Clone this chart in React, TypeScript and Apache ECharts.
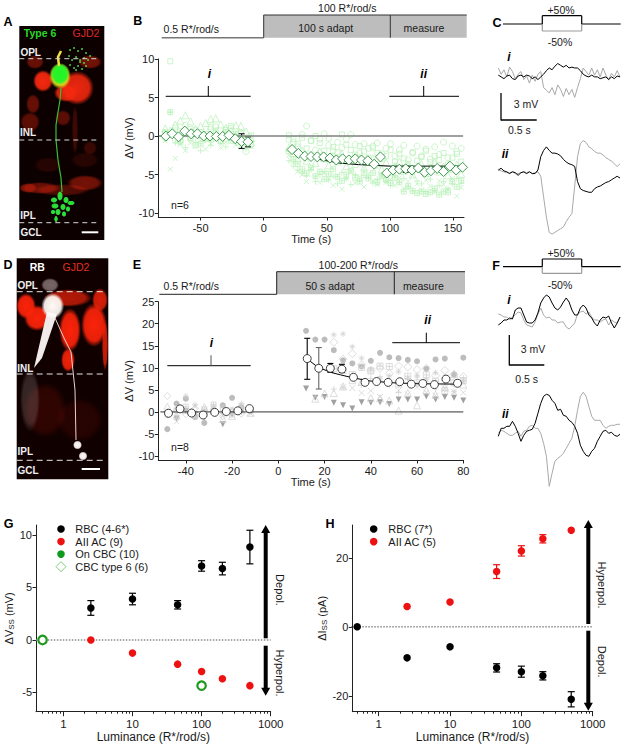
import React, { useEffect, useRef } from "react";
import * as echarts from "echarts";

const FONT = '"Liberation Sans", Arial, sans-serif';

// ---------- Panel B ----------
const tBPre = [-78,-74,-70,-66,-62,-58,-54,-50,-46,-42,-38,-34,-30,-26,-22,-18,-14,-10];
const tBPost = [20,23.5,27,30.5,34,37.5,41,44.5,48,51.5,55,58.5,62,65.5,69,72.5,76,79.5,83,86.5,90,93.5,97,100.5,104,107.5,111,114.5,118,121.5,125,128.5,132,135.5,139,142.5,146,149.5,153,156.5];
const bCirclePre = [-0.3,0.2,-0.5,0.6,1.4,-0.2,0.8,0.1,-0.4,0.9,1.2,-0.6,0.5,1.0,-0.8,0.2,-2.0,-1.2];
const bSquarePre = [0.4,9.7,1.1,-0.6,0.3,0.9,-1.2,0.5,-0.2,1.2,0,-0.7,0.8,1.3,0.3,0.4,-0.5,-1.1];
const bTrianglePre = [1.0,0.7,1.5,2.0,2.7,1.9,0.9,1.3,1.7,2.2,2.3,1.5,1.1,0.7,1.4,1.3,0.6,-0.3];
const bCrossPre = [-0.6,-4.3,-2.9,-1.1,-1.9,-0.9,-1.3,-0.6,-1.7,-1.0,-0.4,-1.5,-0.8,-0.3,-1.2,-1.5,-0.9,-1.3];
const bPlusPre = [-0.3,3.1,-0.9,-0.4,-1.5,0,-0.8,-1.9,-0.5,-1.2,-0.2,-0.9,-1.4,-0.3,-0.7,-1.1,-1.7,-0.6];
const bBoxPlusPre = [0.5,3.1,0.2,-0.8,0.6,-0.3,0.4,-1.0,0.3,-0.4,0.7,-0.1,0.5,-0.6,0.2,-0.4,-0.9,0.1];
const bCirclePost = [-0.5,-0.8,-1.4,0.2,1.3,-0.6,-1.8,-0.4,0.3,-1.2,-1.9,-0.8,-1.5,-0.4,0.2,-1.1,-2.2,-1.0,-1.6,-1.3,-0.9,-2.3,-1.6,-1.0,-2.6,-1.8,-1.2,-3.1,-2.2,-1.3,-2.6,-1.7,-3.0,-1.4,-2.4,-0.8,-2.8,-1.3,-2.0,-1.6];
const bSquarePost = [0.1,-0.4,-1.0,-0.2,-1.6,-0.6,0,-0.9,-1.9,-0.3,-1.4,-2.1,0.2,-1.1,-1.8,-2.4,-1.3,-2.0,-2.8,-1.5,-2.2,-3.0,-2.6,-1.8,-3.3,-2.3,-2.9,-3.6,-2.1,-3.2,-2.7,-1.9,-3.4,-2.6,-3.1,-2.2,-3.7,-2.8,-2.3,-3.3];
const bTrianglePost = [-1.5,-2.2,-2.9,-1.9,-3.2,-2.5,-3.5,-2.0,-2.9,-3.8,-2.6,-3.3,-2.3,-3.9,-3.0,-3.6,-2.8,-4.1,-3.3,-2.9,-3.7,-4.3,-3.4,-4.7,-3.9,-3.3,-4.5,-3.8,-5.0,-4.2,-3.6,-4.8,-4.1,-3.4,-4.6,-3.9,-5.1,-4.3,-3.7,-4.9];
const bCrossPost = [-2.5,-3.4,-4.6,-5.0,-5.9,-4.2,-5.3,-6.0,-4.8,-5.6,-6.4,-5.1,-6.9,-5.5,-4.6,-6.1,-5.3,-6.6,-4.9,-5.8,-6.3,-5.2,-6.0,-5.6,-6.4,-5.4,-6.8,-5.9,-5.1,-6.2,-7.0,-5.7,-6.5,-7.2,-5.8,-6.3,-6.9,-5.5,-7.8,-6.7];
const bPlusPost = [-3.2,-3.9,-4.4,-4.8,-5.2,-4.4,-5.9,-5.0,-4.6,-5.7,-5.2,-6.2,-4.7,-5.5,-6.3,-5.0,-5.8,-4.4,-5.4,-6.1,-5.6,-5.0,-5.9,-6.4,-5.2,-6.0,-5.5,-6.6,-7.1,-5.8,-6.2,-7.2,-5.6,-7.1,-6.4,-5.9,-6.8,-6.2,-5.5,-6.1];
const bBoxPlusPost = [-2.0,-3.0,-3.6,-4.3,-4.8,-4.1,-5.2,-4.6,-5.6,-4.9,-4.3,-5.3,-5.8,-5.0,-4.5,-5.4,-5.9,-5.1,-5.5,-4.8,-6.0,-5.2,-5.7,-6.1,-5.4,-6.0,-7.2,-6.5,-7.1,-7.4,-7.2,-7.5,-7.3,-6.8,-7.6,-7.2,-7.3,-5.9,-6.6,-5.8];
const bMeanT = [-77.5,-72.5,-67.5,-62.5,-57.5,-52.5,-47.5,-42.5,-37.5,-32.5,-27.5,-22.5,-17.5,-12.5,22.5,27.5,32.5,37.5,42.5,47.5,52.5,57.5,62.5,67.5,72.5,77.5,82.5,87.5,92.5,97.5,102.5,107.5,112.5,117.5,122.5,127.5,132.5,137.5,142.5,147.5,152.5,157.5];
const bMeanV = [0,0.3,-0.1,0.65,0.3,0.3,0,0,-0.05,-0.05,0.1,-0.35,-0.7,-0.75,-1.75,-2.25,-2.6,-2.65,-2.7,-2.7,-2.85,-3.1,-2.95,-3.1,-2.95,-3.1,-3.2,-3.65,-2.7,-4.8,-4.4,-4.3,-4.25,-4.4,-4.15,-4.7,-4.5,-4.2,-4.6,-3.9,-4.4,-4.05];
const bErrors = [[-17.5,-1.6,0.3],[-12.5,-1.4,-0.1],[112.5,-4.7,-3.9],[127.5,-5.0,-4.4]];
const bFitT = [40,48,60,75,100,130,157];
const bFitV = [-2.9,-3.15,-3.5,-3.7,-3.9,-3.9,-3.9];
const bZeroT = [-83,158];
const zeroV = [0,0];

// ---------- Panel E ----------
const tEPre = [-48,-44,-40,-36,-32,-28,-24,-20,-16,-12];
const tEPost = [12,16,20,24,28,32,36,40,44,48,52,56,60,64,68,72,76,80];
const eDotPre = [-3.9,1.9,3.0,-1.2,-2.5,0.3,1.5,3.2,1.0,0.2];
const eDownPre = [-0.8,-1.5,0.2,-0.6,-1.2,-0.3,-2.8,-0.5,0,0.4];
const eDiamondPre = [3.6,0.3,-0.5,0.8,-0.2,0.6,-1.0,0.3,-0.4,0.2];
const eTrianglePre = [1.2,-0.8,0.4,-0.4,1.1,0.2,-1.6,-0.9,0.5,-0.2];
const eCrossPre = [-0.9,-2.2,0.5,1.2,-0.5,0.8,-0.7,-0.2,1.0,-0.4];
const eStarPre = [0.2,-1.2,3.6,1.6,0.4,1.4,-0.3,0.6,1.9,0.5];
const eSquarePre = [-0.5,0.4,1.2,-1.0,0.6,1.7,0.9,-0.6,1.1,0.3];
const eDotPost = [18.4,16.4,16.4,14,11.7,11,10.3,11.6,13.4,12.4,12.2,11.8,11.5,9.8,11.9,12.1,8.5,12.3];
const eDownPost = [5.3,3.2,3.4,2.1,1.5,0.8,2.2,2.1,2.2,1.8,2.8,2.8,2.8,3.5,2.8,3.4,3.2,2.6];
const eDiamondPost = [null,null,null,15.8,12,13.2,10.7,9.4,9.9,8.7,10.4,10.2,9.6,9.9,8.2,9.4,8.5,8.0];
const eStarPost = [null,null,null,17.5,17.7,14.8,12.2,9.7,7.5,8.2,9.1,7.6,8.3,7.4,8.9,7.8,4.6,6.9];
const eTrianglePost = [null,3.0,4.2,4.3,5.8,7.2,6.8,3.2,3.1,2.6,0.3,4.3,1.5,4.9,3.9,5.6,8.6,6.2];
const eCrossPost = [null,null,null,null,5.6,5.4,4.3,4.8,3.4,6.4,4.9,4.0,5.6,4.4,3.7,5.4,4.6,4.4];
const ePlusPost = [null,null,null,5.2,5.5,7.6,6.1,7.6,8.0,6.2,4.4,7.5,7.9,6.9,5.2,7.2,6.2,7.7];
const eSquarePost = [null,null,null,9.8,9.4,8.5,10.1,9.3,10.4,10.3,6.3,8.1,6.6,8.4,7.0,4.8,6.6,7.1];
const eMeanT = [-47.5,-42.5,-37.5,-32.5,-27.5,-22.5,-17.5,-12.5,12.5,17.5,22.5,27.5,32.5,37.5,42.5,47.5,52.5,57.5,62.5,67.5,72.5,77.5];
const eMeanV = [-0.3,0.7,-0.25,-0.7,-0.1,0.1,0.25,0.75,12.1,9.9,9.9,9.7,7.85,6.7,6.9,6.7,6.85,6.3,6.45,6.2,7.45,6.5];
const eErrors = [[12.5,7.4,16.7],[22.5,9,11],[27.5,9,10.8]];
const eErrorsGray = [[17.5,5.2,14.6]];
const eFitT = [12.5,17,22.5,27,32.5,40,50,60,78];
const eFitV = [12,10.2,9,8.4,7.7,7,6.6,6.4,6.3];
const eZeroT = [-51,80];

// ---------- Panel C / F traces ----------
const traceT = [0,0.04,0.08,0.12,0.16,0.2,0.24,0.28,0.32,0.36,0.4,0.44,0.48,0.52,0.56,0.6,0.64,0.68,0.72,0.76,0.8,0.84,0.88,0.92,0.96,1,1.04,1.08,1.12,1.16,1.2,1.24,1.28,1.32,1.36,1.4,1.44,1.48,1.52,1.56,1.6,1.64,1.68,1.72];
const cIBlack = [0.1,-0.1,-0.3,0,0.1,-0.3,-0.4,0,0.1,-0.1,0.1,0,-0.3,-0.1,-0.4,-0.1,0.2,0.6,0.9,0.7,1.1,1.4,1.2,1.0,1.2,0.9,1.0,0.9,0.9,0.6,0.2,0,-0.1,0.1,-0.1,-0.1,-0.3,-0.2,-0.1,-0.4,-0.1,-0.3,0,-0.1];
const cIGray = [0.9,0.2,0.7,-0.1,1.0,0.5,-0.3,0.2,0.5,-0.4,0,-0.8,0.1,-0.6,0.2,0.5,-1.3,-1.6,-1.9,-1.3,-2.1,-1.0,-1.5,-2.3,-1.4,-2.1,-1.5,-2.4,-1.3,-0.3,0.9,0.5,0.1,0.9,0.1,0.7,-0.1,0.9,0.1,-0.4,0.3,-0.1,0.6,-0.1];
const cIIBlack = [0.3,0.5,0.2,0.1,-0.1,0.1,0,-0.3,0,0.1,-0.1,0.1,-0.1,-0.1,0.3,1.8,2.5,2.9,2.5,2.2,2.2,2.1,1.9,1.5,1.2,1.0,0.9,0.7,-1.0,-1.8,-2.0,-2.1,-2.2,-2.2,-1.8,-1.6,-1.5,-1.3,-1.1,-1.0,-0.8,-0.6,-0.4,-0.6];
const cIIGray = [0.3,0.2,0.1,0,0,0.1,-0.1,-0.1,0,0.1,0,0.1,-0.1,0,0.1,-0.4,-2.7,-5.0,-6.7,-6.9,-6.7,-6.5,-6.3,-6.1,-5.5,-5.0,-4.6,-1.5,1.8,3.3,3.6,3.4,2.9,2.7,2.4,2.2,2.2,2.0,1.7,1.5,1.3,1.0,0.7,1.0];
const fIBlack = [-0.5,-0.3,0,0,0.2,0.1,1.0,1.2,1.2,0.5,-0.2,-0.3,-0.3,0,0.7,1.7,2.2,2.5,2.3,1.7,1.2,1.0,1.3,1.8,2.2,1.8,1.0,0.5,0.5,1.2,1.5,1.2,0.5,0.2,-0.3,-0.6,0,0.3,0.2,0.4,-0.3,-0.8,-0.3,0.3];
const fIGray = [0.6,0.5,0.3,0.3,0,0.3,0.5,0.8,0.7,0,-0.5,-0.6,-0.7,-0.2,0.6,1.2,0.5,0.2,0.3,0,0,-0.3,-0.2,-0.2,-0.7,-0.9,-0.6,-0.3,0.6,0.8,0.9,0.6,0.8,0.3,0,0,-0.2,0,0.1,-0.5,0,-0.2,-0.3,0.3];
const fIIBlack = [-0.3,0.5,0.5,0.7,0.7,1.2,0.7,0,-0.8,-0.2,0.2,0.3,0.4,1.0,2.0,3.0,3.7,3.9,3.8,3.3,3.0,2.3,2.4,1.8,1.7,1.3,1.1,0.7,0,-1.2,-1.8,-2.2,-2.3,-1.8,-1.5,-0.8,-0.3,0.2,0.3,0,0.1,-0.2,-0.3,-0.1];
const fIIGray = [0,0.3,0.2,0,-0.2,-0.2,0,0.2,-0.3,0.2,0.3,0.7,0.8,0.5,0.5,0,-1.0,-2.3,-5.3,-4.0,-2.8,-2.5,-2.3,-2.0,-1.5,-1.0,-0.5,0.7,2.3,3.7,4.1,3.7,2.7,1.7,1.3,1.3,1.3,0.8,0.5,0.7,0.8,0.8,0.9,0.9];

// ---------- Panel G / H ----------
const lum = [2.5,10,45,100,200,500];
const gRbc = [3.05,3.9,3.35,7.05,6.8,8.85];
const gRbcErr = [0.7,0.55,0.4,0.5,0.6,1.6];
const gAii = [0,-1.25,-2.3,-3,-3.7,-4.35];
const gGreenX = [0.5,100];
const gGreenY = [0,-4.35];
const gZeroX = [0.4,1000];
const hRbcX = [0.5,2.5,10,45,100,200,500];
const hRbc = [0,-9,-5.8,-11.9,-13,-14.2,-21];
const hRbcErr = [0,0,0,1.2,1.6,1.2,2.2];
const hAii = [5.9,7.2,16,22,25.5,28];
const hAiiErr = [0,0,2,1.5,1.2,0];
const logMinorTicks = [0.5,0.6,0.7,0.8,0.9,2,3,4,5,6,7,8,9,20,30,40,50,60,70,80,90,200,300,400,500,600,700,800,900];
const logMajorTicks = [1,10,100,1000];
const legendG = ["RBC (4-6*)","AII AC (9)","On CBC (10)","CBC type 6 (6)"];
const legendH = ["RBC (7*)","AII AC (5)"];

// ---------- Micrograph decoration ----------
const blobsA: number[][] = [[35,62,9,7,0.4],[90,62,12,7,0.45],[43,81,10,11,1],[77,88,17,17,0.95],[66,93,12,9,0.9],[33,104,7,10,0.4],[30,122,10,10,0.35],[63,118,8,8,0.35],[75,130,3,25,0.22],[90,148,7,7,0.2],[40,188,20,6,0.4],[85,183,18,8,0.45],[62,190,28,6,0.3],[28,188,9,5,0.4],[48,165,14,8,0.12],[85,160,14,8,0.12]];
const blobsD: number[][] = [[26,306,10,13,1],[37,318,13,13,1],[68,298,24,9,0.7],[70,330,11,22,1],[94,325,13,22,1],[100,300,8,12,0.85],[68,360,7,12,0.95],[105,345,3,26,0.8],[45,410,22,28,0.14],[80,420,24,22,0.1]];
const axonA = [[61,88],[60,100],[58,112],[56,125],[56,140],[58,160],[61,178],[62,192]];
const clusterA = [[60,196,3,5],[54,200,3.5,3],[66,200,3,3.5],[71,203,4,2.5],[55,206,4,3],[63,207,3,3.5],[68,209,2.5,3],[58,212,3,3.5],[64,214,2.5,3],[53,212,2.5,2.5],[56,219,2,3.5]];
const dotsA = [[70,50],[74,48],[78,51],[82,49],[86,53],[69,56],[72,60],[76,57],[80,60],[84,58],[88,60],[90,56],[70,65],[74,68],[78,66],[82,69],[86,66],[76,70],[80,62],[84,63]];

const line = (x1: number, y1: number, x2: number, y2: number, stroke = "#000", lineWidth = 1, extra: any = {}) => ({
  type: "line", silent: true, shape: { x1, y1, x2, y2 }, style: { stroke, lineWidth, ...extra },
});
const txt = (text: string, x: number, y: number, size = 10.5, fill = "#1a1a1a", opts: any = {}) => ({
  type: "text", silent: true, x, y, rotation: opts.rotation || 0,
  style: { text, fill, font: `${opts.weight || "normal"} ${size}px ${FONT}`, align: opts.align || "center", verticalAlign: "middle" },
});
const soft = (r: number, g: number, b: number, a: number) =>
  new echarts.graphic.RadialGradient(0.5, 0.5, 0.5, [
    { offset: 0, color: `rgba(${r},${g},${b},${a})` },
    { offset: 0.72, color: `rgba(${r},${g},${b},${a * 0.92})` },
    { offset: 1, color: `rgba(${r},${g},${b},0)` },
  ]);
const blob = (cx: number, cy: number, rx: number, ry: number, fill: any) => ({ type: "ellipse", silent: true, shape: { cx, cy, rx, ry }, style: { fill } });
const rect = (x: number, y: number, width: number, height: number, fill: string) => ({ type: "rect", silent: true, shape: { x, y, width, height }, style: { fill } });
const arrow = (x: number, y1: number, y2: number) => {
  const dir = y2 < y1 ? 1 : -1;
  return [
    line(x, y1, x, y2 + dir * 6, "#000", 4),
    { type: "polygon", silent: true, shape: { points: [[x - 4.5, y2 + dir * 8], [x + 4.5, y2 + dir * 8], [x, y2]] }, style: { fill: "#000" } },
  ];
};

const S = {
  box: "path://M0 0H10V10H0Z",
  cross: "path://M0 0L10 10M0 10L10 0",
  plus: "path://M5 0V10M0 5H10",
  boxPlus: "path://M0 0H10V10H0ZM5 0V10M0 5H10",
  star: "path://M5 0V10M0 5H10M1.5 1.5L8.5 8.5M1.5 8.5L8.5 1.5",
};

const zip = (xs: number[], ys: (number | null)[]) => xs.map((x, i) => [x, ys[i]]).filter((p) => p[1] !== null);

export default function App() {
  const ref = useRef<HTMLDivElement>(null);
  useEffect(() => {
    const chart = echarts.init(ref.current!, undefined, { renderer: "svg" });

    const green = "#b6f0b6";
    const cloud = (xs: number[], ys: (number | null)[], symbol: string, color: string, i: number, size = 6, filled = false) => ({
      type: "scatter", xAxisIndex: i, yAxisIndex: i, symbol, symbolSize: size, z: 2, silent: true,
      data: zip(xs, ys),
      itemStyle: filled ? { color, opacity: 1 } : { color: "none", borderColor: color, borderWidth: 0.7, opacity: 1 },
    });
    const lineS = (xs: number[], ys: number[], i: number, color: string, width: number, z = 3, type: any = "solid") => ({
      type: "line", xAxisIndex: i, yAxisIndex: i, data: zip(xs, ys), showSymbol: false, symbol: "none", silent: true, z,
      lineStyle: { color, width, type },
    });
    const errs = (data: number[][], i: number, color: string, z = 4, cap = 3.5, width = 1.2) => ({
      type: "custom", xAxisIndex: i, yAxisIndex: i, z, silent: true, data,
      encode: { x: 0, y: [1, 2] },
      renderItem: (_: any, api: any) => {
        const lo = api.coord([api.value(0), api.value(1)]);
        const hi = api.coord([api.value(0), api.value(2)]);
        const style = { stroke: color, lineWidth: width, fill: "none" };
        return {
          type: "group",
          children: [
            { type: "line", shape: { x1: lo[0], y1: lo[1], x2: hi[0], y2: hi[1] }, style },
            { type: "line", shape: { x1: lo[0] - cap, y1: lo[1], x2: lo[0] + cap, y2: lo[1] }, style },
            { type: "line", shape: { x1: hi[0] - cap, y1: hi[1], x2: hi[0] + cap, y2: hi[1] }, style },
          ],
        };
      },
    });
    const band = (xs: number[], ys: number[], es: number[]) =>
      xs.map((x, k) => [x, ys[k] - es[k], ys[k] + es[k]]).filter((d) => d[2] !== d[1]);
    const dots = (xs: number[], ys: number[], i: number, color: string, size = 7.5, z = 5) => ({
      type: "scatter", xAxisIndex: i, yAxisIndex: i, symbol: "circle", symbolSize: size, z, silent: true,
      data: zip(xs, ys), itemStyle: { color, opacity: 1 },
    });

    const series: any[] = [
      // B
      cloud(tBPre, bCirclePre, "circle", green, 0),
      cloud(tBPre, bSquarePre, S.box, green, 0, 5),
      cloud(tBPre, bTrianglePre, "triangle", green, 0, 7),
      cloud(tBPre, bCrossPre, S.cross, green, 0, 5),
      cloud(tBPre, bPlusPre, S.plus, green, 0, 6),
      cloud(tBPre, bBoxPlusPre, S.boxPlus, green, 0, 5),
      cloud(tBPost, bCirclePost, "circle", green, 0),
      cloud(tBPost, bSquarePost, S.box, green, 0, 5),
      cloud(tBPost, bTrianglePost, "triangle", green, 0, 7),
      cloud(tBPost, bCrossPost, S.cross, green, 0, 5),
      cloud(tBPost, bPlusPost, S.plus, green, 0, 6),
      cloud(tBPost, bBoxPlusPost, S.boxPlus, green, 0, 5),
      lineS(bZeroT, zeroV, 0, "#808080", 1.6),
      lineS(bFitT, bFitV, 0, "#000", 1),
      errs(bErrors, 0, "#000", 3, 3, 1),
      {
        type: "scatter", xAxisIndex: 0, yAxisIndex: 0, symbol: "diamond", symbolSize: 10, z: 5, silent: true,
        data: zip(bMeanT, bMeanV), itemStyle: { color: "#fff", borderColor: "#2f8f3f", borderWidth: 0.9, opacity: 1 },
      },
      // E
      cloud(tEPre, eDotPre, "circle", "#bcbcbc", 1, 6, true),
      { ...cloud(tEPre, eDownPre, "triangle", "#a0a0a0", 1, 6, true), symbolRotate: 180 },
      cloud(tEPre, eDiamondPre, "diamond", "#cfcfcf", 1, 7),
      cloud(tEPre, eTrianglePre, "triangle", "#cfcfcf", 1, 7),
      cloud(tEPre, eCrossPre, S.cross, "#cfcfcf", 1, 5),
      cloud(tEPre, eStarPre, S.star, "#cfcfcf", 1, 6),
      cloud(tEPre, eSquarePre, S.boxPlus, "#cfcfcf", 1, 5),
      cloud(tEPost, eDotPost, "circle", "#bcbcbc", 1, 6, true),
      { ...cloud(tEPost, eDownPost, "triangle", "#a0a0a0", 1, 6, true), symbolRotate: 180 },
      cloud(tEPost, eDiamondPost, "diamond", "#cfcfcf", 1, 8),
      cloud(tEPost, eStarPost, S.star, "#cfcfcf", 1, 6),
      cloud(tEPost, eTrianglePost, "triangle", "#cfcfcf", 1, 7),
      cloud(tEPost, eCrossPost, S.cross, "#cfcfcf", 1, 6),
      cloud(tEPost, ePlusPost, S.plus, "#cfcfcf", 1, 6),
      cloud(tEPost, eSquarePost, S.boxPlus, "#cfcfcf", 1, 6),
      lineS(eZeroT, zeroV, 1, "#333", 1),
      lineS(eFitT, eFitV, 1, "#000", 1),
      errs(eErrors, 1, "#000", 3, 3, 1.1),
      errs(eErrorsGray, 1, "#666", 3, 3, 1.1),
      {
        type: "scatter", xAxisIndex: 1, yAxisIndex: 1, symbol: "circle", symbolSize: 8, z: 5, silent: true,
        data: zip(eMeanT, eMeanV), itemStyle: { color: "#fff", borderColor: "#111", borderWidth: 0.8, opacity: 1 },
      },
      // G
      lineS(gZeroX, zeroV, 2, "#8c8c8c", 1.4, 2, [1.5, 1.5]),
      errs(band(lum, gRbc, gRbcErr), 2, "#000", 3),
      dots(lum, gRbc, 2, "#000"),
      dots(lum, gAii, 2, "#ee1111"),
      {
        type: "scatter", xAxisIndex: 2, yAxisIndex: 2, symbol: "circle", symbolSize: 8.5, z: 6, silent: true,
        data: zip(gGreenX, gGreenY), itemStyle: { color: "#fff", borderColor: "#1f9a1f", borderWidth: 2.2, opacity: 1 },
      },
      // H
      lineS(gZeroX, zeroV, 3, "#8c8c8c", 1.4, 2, [1.5, 1.5]),
      errs(band(hRbcX, hRbc, hRbcErr), 3, "#000", 3),
      errs(band(lum, hAii, hAiiErr), 3, "#ee1111", 3),
      dots(hRbcX, hRbc, 3, "#000"),
      dots(lum, hAii, 3, "#ee1111"),
      // Traces
      lineS(traceT, cIGray, 4, "#a8a8a8", 1),
      lineS(traceT, cIBlack, 4, "#000", 1),
      lineS(traceT, cIIGray, 5, "#a8a8a8", 1),
      lineS(traceT, cIIBlack, 5, "#000", 1),
      lineS(traceT, fIGray, 6, "#a8a8a8", 1),
      lineS(traceT, fIBlack, 6, "#000", 1),
      lineS(traceT, fIIGray, 7, "#a8a8a8", 1),
      lineS(traceT, fIIBlack, 7, "#000", 1),
    ];

    const grids = [
      { left: 158.3, top: 59, width: 305.7, height: 158 },
      { left: 158.3, top: 301.7, width: 305, height: 158.3 },
      { left: 36, top: 525, width: 234.7, height: 186.7 },
      { left: 352.3, top: 525, width: 240.4, height: 186.7 },
      { left: 498.3, top: 49.3, width: 121.7, height: 53.4 },
      { left: 498.3, top: 128.2, width: 121.7, height: 115.7 },
      { left: 498.3, top: 290, width: 121.7, height: 60 },
      { left: 498.3, top: 383.3, width: 121.7, height: 110 },
    ];

    const label = { fontFamily: FONT, fontSize: 11, color: "#1a1a1a", margin: 5 };
    const axLine = { show: true, onZero: false, lineStyle: { color: "#222", width: 1 } };
    const tick = (vals: number[], length = 3.5) => ({ show: true, length, inside: false, customValues: vals, lineStyle: { color: "#222", width: 1 } });
    const valueX = (grid: number, min: number, max: number, vals: number[], name: string) => ({
      type: "value", gridIndex: grid, min, max, splitLine: { show: false }, axisLine: axLine, axisTick: tick(vals),
      axisLabel: { ...label, customValues: vals }, name, nameLocation: "middle", nameGap: 15,
      nameTextStyle: { fontFamily: FONT, fontSize: 11, color: "#1a1a1a" },
    });
    const valueY = (grid: number, min: number, max: number, vals: number[], name: any, gap: number, rich?: any) => ({
      type: "value", gridIndex: grid, min, max, splitLine: { show: false }, axisLine: axLine, axisTick: tick(vals),
      axisLabel: { ...label, margin: 4, customValues: vals }, name, nameLocation: "middle", nameGap: gap,
      nameTextStyle: { fontFamily: FONT, fontSize: 11, color: "#1a1a1a", rich },
    });
    const logX = (grid: number, min: number) => ({
      type: "log", logBase: 10, gridIndex: grid, position: "bottom", min, max: 1000, splitLine: { show: false }, axisLine: axLine,
      axisTick: tick(logMajorTicks, 4.5), minorTick: { show: false },
      axisLabel: { ...label, margin: 6, fontSize: 11.5, customValues: logMajorTicks, formatter: (v: number) => String(Math.round(v)) },
      name: "Luminance (R*/rod/s)", nameLocation: "middle", nameGap: 19,
      nameTextStyle: { fontFamily: FONT, fontSize: 12, color: "#1a1a1a" },
    });
    const logMinor = (grid: number, min: number) => ({
      type: "log", logBase: 10, gridIndex: grid, position: "bottom", min, max: 1000, splitLine: { show: false }, axisLine: { show: false, onZero: false },
      axisTick: tick(logMinorTicks, 2), axisLabel: { show: false },
    });
    const hidden = (grid: number, min: number, max: number) => ({ type: "value", gridIndex: grid, min, max, show: false });

    const subRich = { sub: { fontFamily: FONT, fontSize: 8, verticalAlign: "bottom", padding: [5, 0, 0, 0], color: "#1a1a1a" }, base: { fontFamily: FONT, fontSize: 11, color: "#1a1a1a" } };

    const xAxis = [
      valueX(0, -83.5, 158.7, [-50, 0, 50, 100, 150], "Time (s)"),
      valueX(1, -51.9, 80, [-40, -20, 0, 20, 40, 60, 80], "Time (s)"),
      logX(2, 0.402),
      logX(3, 0.4266),
      hidden(4, 0, 1.72), hidden(5, 0, 1.72), hidden(6, 0, 1.72), hidden(7, 0, 1.72),
      logMinor(2, 0.402),
      logMinor(3, 0.4266),
    ];
    const yAxis = [
      valueY(0, -10.5, 10, [-10, -5, 0, 5, 10], "ΔV (mV)", 20),
      valueY(1, -10.9, 25, [-10, -5, 0, 5, 10, 15, 20, 25], "ΔV (mV)", 20),
      valueY(2, -6.83, 10.95, [-5, 0, 5, 10], "{base|ΔV}{sub|SS}{base| (mV)}", 17, subRich),
      valueY(3, -24.6, 29.5, [-20, 0, 20], "{base|ΔI}{sub|SS}{base| (pA)}", 21, subRich),
      hidden(4, -3, 3), hidden(5, -8, 5), hidden(6, -3, 3), hidden(7, -6, 5),
    ];

    const g: any[] = [];
    // ---- Micrograph A ----
    g.push(rect(19.3, 26, 85, 214, "#0c0000"));
    blobsA.forEach(([x, y, rx, ry, a]) => g.push(blob(x, y, rx, ry, soft(245, 40, 15, a))));
    g.push(blob(60, 76, 11, 13, soft(225, 225, 30, 1)));
    g.push(blob(60, 74, 9.5, 11, soft(30, 245, 40, 1)));
    g.push({ type: "polyline", silent: true, shape: { points: [[59, 66], [58, 57], [61, 51]] }, style: { stroke: "#f0e040", lineWidth: 2.5, fill: "none" } });
    g.push({ type: "polyline", silent: true, shape: { points: axonA }, style: { stroke: "#38c038", lineWidth: 1.2, fill: "none" } });
    clusterA.forEach(([x, y, rx, ry]) => g.push(blob(x, y, rx, ry, soft(45, 230, 60, 1))));
    dotsA.forEach(([cx, cy]) => g.push({ type: "circle", silent: true, shape: { cx, cy, r: 0.9 }, style: { fill: "#50e050" } }));
    [58.7, 140, 222.7].forEach((y) => g.push(line(19.3, y, 100, y, "#d8d8d8", 1, { lineDash: [5, 4] })));
    g.push(txt("Type 6", 40, 33.3, 10.5, "#28d828", { weight: "bold" }));
    g.push(txt("GJD2", 86, 33.3, 10.5, "#e02828"));
    g.push(txt("OPL", 30.7, 52.7, 10, "#eee", { weight: "bold" }));
    g.push(txt("INL", 28, 132, 10, "#eee", { weight: "bold" }));
    g.push(txt("IPL", 28, 215, 10, "#eee", { weight: "bold" }));
    g.push(txt("GCL", 31, 232, 10, "#eee", { weight: "bold" }));
    g.push(line(81.7, 232.3, 98.3, 232.3, "#fff", 2));
    // ---- Micrograph D ----
    g.push(rect(16.7, 258.3, 91.6, 221, "#100000"));
    blobsD.forEach(([x, y, rx, ry, a]) => g.push(blob(x, y, rx, ry, soft(250, 35, 10, a))));
    g.push(blob(30, 400, 10, 32, soft(150, 130, 130, 0.3)));
    g.push({ type: "polygon", silent: true, shape: { points: [[47, 312], [57, 314], [42, 358], [34, 368]] }, style: { fill: "#f0eaea" } });
    g.push(blob(52.7, 306, 11.5, 13, soft(255, 250, 245, 1)));
    g.push(blob(50, 285, 9, 7, soft(190, 170, 170, 0.6)));
    g.push({ type: "polyline", silent: true, shape: { points: [[55, 318], [64, 338], [71, 352], [75, 390], [76, 440]] }, style: { stroke: "#eed0d0", lineWidth: 1, fill: "none" } });
    g.push(blob(77.5, 445, 4.5, 4.5, soft(255, 250, 250, 1)));
    g.push(blob(83, 456, 4.5, 4.5, soft(255, 250, 250, 1)));
    [291.7, 374, 460.3].forEach((y) => g.push(line(16.7, y, 106, y, "#e8e8e8", 1, { lineDash: [6, 4] })));
    g.push(txt("RB", 37.3, 267.3, 10.5, "#fff", { weight: "bold" }));
    g.push(txt("GJD2", 76, 267.3, 10.5, "#e03020"));
    g.push(txt("OPL", 27.7, 285.7, 10, "#eee", { weight: "bold" }));
    g.push(txt("INL", 25.3, 368.3, 10, "#eee", { weight: "bold" }));
    g.push(txt("IPL", 25.3, 451.7, 10, "#eee", { weight: "bold" }));
    g.push(txt("GCL", 28, 470.7, 10, "#eee", { weight: "bold" }));
    g.push(line(81.7, 469, 100, 469, "#fff", 2));
    // ---- Panel letters ----
    [["A", 8, 21.7], ["B", 137.7, 21], ["C", 497, 22.7], ["D", 8, 265], ["E", 137, 265], ["F", 496, 266], ["G", 8.5, 524], ["H", 330, 524]].forEach(([t, x, y]: any) =>
      g.push(txt(t, x, y, 12.5, "#000", { weight: "bold" }))
    );
    // ---- B stimulus ----
    g.push(rect(263.7, 15, 203, 22.7, "#bdbdbd"));
    g.push(line(161.7, 37.7, 263.7, 37.7, "#777", 1.5));
    g.push(line(263.7, 37.7, 263.7, 15, "#333", 1));
    g.push(line(263.7, 15, 466.7, 15, "#333", 1));
    g.push(line(390.3, 15, 390.3, 37.7, "#333", 1));
    g.push(txt("100 R*/rod/s", 347.3, 8.3));
    g.push(txt("100 s adapt", 325.7, 28.3));
    g.push(txt("measure", 424, 28.3));
    g.push(txt("0.5 R*/rod/s", 191.3, 29.3));
    g.push(line(165.7, 96.3, 250.7, 96.3));
    g.push(line(208.3, 86, 208.3, 96.3));
    g.push(line(389.3, 96.3, 459, 96.3));
    g.push(line(423.7, 86, 423.7, 96.3));
    g.push(txt("i", 209.3, 74, 12, "#000", { weight: "italic bold" }));
    g.push(txt("ii", 423.7, 74, 12, "#000", { weight: "italic bold" }));
    g.push(txt("n=6", 180, 205));
    // ---- E stimulus ----
    g.push(rect(276.7, 271.7, 188.3, 22.6, "#bdbdbd"));
    g.push(line(159.3, 294.3, 276.7, 294.3, "#222", 1));
    g.push(line(276.7, 294.3, 276.7, 271.7, "#222", 1));
    g.push(line(276.7, 271.7, 465, 271.7, "#222", 1));
    g.push(line(394.3, 271.7, 394.3, 294.3, "#222", 1));
    g.push(txt("100-200 R*/rod/s", 358.3, 265.2));
    g.push(txt("50 s adapt", 330, 285.7));
    g.push(txt("measure", 423.3, 285.7));
    g.push(txt("0.5 R*/rod/s", 191.3, 286));
    g.push(line(167.3, 365.7, 250.7, 365.7));
    g.push(line(211, 355.3, 211, 365.7, "#555"));
    g.push(line(392.3, 342.7, 460, 342.7));
    g.push(line(426.3, 332.7, 426.3, 342.7));
    g.push(txt("i", 211.3, 343.3, 12, "#000", { weight: "italic bold" }));
    g.push(txt("ii", 427.7, 320, 12, "#000", { weight: "italic bold" }));
    g.push(txt("n=8", 180, 447.3));
    // ---- C ----
    const stim = (y: number, top: number, bot: number) => {
      g.push(line(503, y, 542.3, y, "#000", 1.2));
      g.push(line(581.7, y, 620.7, y, "#000", 1.2));
      g.push(line(542.3, bot, 581.7, bot, "#9a9a9a", 1.2));
      g.push(line(542.3, y, 542.3, bot, "#9a9a9a", 1.2));
      g.push(line(581.7, y, 581.7, bot, "#9a9a9a", 1.2));
      g.push(line(542.3, top, 581.7, top, "#000", 1.2));
      g.push(line(542.3, top, 542.3, y, "#000", 1.2));
      g.push(line(581.7, top, 581.7, y, "#000", 1.2));
    };
    stim(24, 15.7, 31);
    g.push(txt("+50%", 561, 9.5));
    g.push(txt("-50%", 560, 41.7));
    g.push(line(501, 93, 501, 120.5, "#000", 1.3));
    g.push(line(501, 120, 536.7, 120, "#000", 1.3));
    g.push(txt("3 mV", 526, 104));
    g.push(txt("0.5 s", 519.3, 130));
    g.push(txt("i", 509, 57, 12, "#000", { weight: "italic bold" }));
    g.push(txt("ii", 505, 154, 12, "#000", { weight: "italic bold" }));
    // ---- F ----
    stim(266.7, 259, 273.3);
    g.push(txt("+50%", 561, 252.7));
    g.push(txt("-50%", 560, 285));
    g.push(line(509.3, 335, 509.3, 365.5, "#000", 1.3));
    g.push(line(509.3, 365, 544.3, 365, "#000", 1.3));
    g.push(txt("3 mV", 533, 349.3));
    g.push(txt("0.5 s", 526.7, 379));
    g.push(txt("i", 509, 300, 12, "#000", { weight: "italic bold" }));
    g.push(txt("ii", 505.3, 414, 12, "#000", { weight: "italic bold" }));
    // ---- G legend + arrows ----
    const legendColors = ["#000", "#ee1111", "#0f9a1f"];
    legendG.forEach((t, i) => {
      const y = 529 + i * 12.55;
      g.push(txt(t, 75.3, y, 11, "#1a1a1a", { align: "left" }));
      if (i < 3) g.push({ type: "circle", silent: true, shape: { cx: 61, cy: y, r: 3.8 }, style: { fill: legendColors[i] } });
      else g.push({ type: "polygon", silent: true, shape: { points: [[61, y - 5], [66, y], [61, y + 5], [56, y]] }, style: { fill: "#fff", stroke: "#58c058", lineWidth: 0.8 } });
    });
    g.push(...arrow(265.7, 638.3, 525), ...arrow(265.7, 645.7, 695.7));
    g.push(txt("Depol.", 280, 590, 11, "#1a1a1a", { rotation: -Math.PI / 2 }));
    g.push(txt("Hyperpol.", 280, 673, 11, "#1a1a1a", { rotation: -Math.PI / 2 }));
    // ---- H legend + arrows ----
    legendH.forEach((t, i) => {
      const y = 529 + i * 12.6;
      g.push(txt(t, 388.3, y, 11, "#1a1a1a", { align: "left" }));
      g.push({ type: "circle", silent: true, shape: { cx: 373.7, cy: y, r: 3.8 }, style: { fill: legendColors[i] } });
    });
    g.push(...arrow(588.3, 624, 520), ...arrow(588.3, 630.7, 710.7));
    g.push(txt("Hyperpol.", 601.7, 585, 11, "#1a1a1a", { rotation: -Math.PI / 2 }));
    g.push(txt("Depol.", 601.7, 661.7, 11, "#1a1a1a", { rotation: -Math.PI / 2 }));

    chart.setOption({
      animation: false,
      backgroundColor: "#fff",
      grid: grids,
      xAxis,
      yAxis,
      series,
      graphic: { elements: g },
    });
    return () => chart.dispose();
  }, []);
  return <div ref={ref} style={{ position: "fixed", left: 0, top: 0, width: 625, height: 747 }} />;
}
